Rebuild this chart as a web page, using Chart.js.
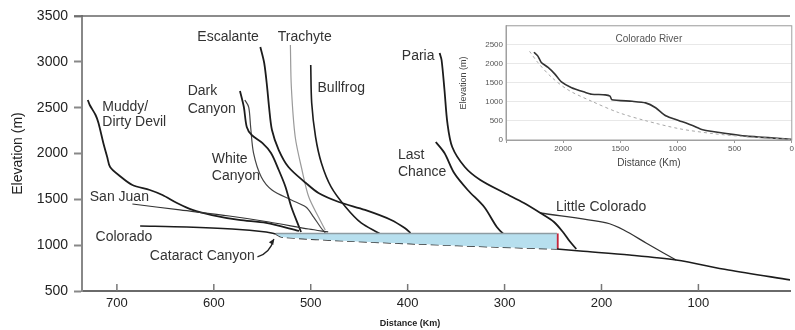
<!DOCTYPE html>
<html>
<head>
<meta charset="utf-8">
<script src="https://cdn.jsdelivr.net/npm/chart.js@4/dist/chart.umd.min.js"></script>
<style>
  html, body { margin: 0; padding: 0; background: #fff; }
  #wrap { position: relative; width: 795px; height: 330px; }
  #main { position: absolute; left: 0; top: 0; }
  #inset { position: absolute; left: 456px; top: 18px; }
</style>
</head>
<body>
<div id="wrap">
  <canvas id="main" width="795" height="330"></canvas>
  <canvas id="inset" width="339" height="160"></canvas>
</div>
<script>
// river long profiles, distance (km) vs elevation (m)
const muddyKm   = [730, 728, 722, 719, 714, 710, 707, 697, 684, 666, 653, 638, 622, 602, 574, 546, 512];
const muddyElev = [2584, 2529, 2420, 2333, 2115, 1962, 1853, 1755, 1656, 1602, 1547, 1460, 1384, 1329, 1275, 1242, 1155];

const sanJuanKm   = [684, 635, 584, 543, 502, 482];
const sanJuanElev = [1449, 1384, 1318, 1253, 1176, 1144];

const coloradoUpKm   = [676, 628, 581, 546, 536];
const coloradoUpElev = [1209, 1198, 1176, 1144, 1122];

const oldBedKm   = [536, 530, 461, 390, 308, 246];
const oldBedElev = [1122, 1089, 1045, 1013, 980, 958];

const lakeKm   = [536, 530, 461, 390, 308, 246];
const lakeElev = [1128, 1128, 1128, 1128, 1128, 1128];

const coloradoDownKm   = [246, 222, 171, 123, 69, 5];
const coloradoDownElev = [958, 936, 893, 838, 729, 620];

const damKm   = [246, 246];
const damElev = [958, 1128];

const darkKm   = [573, 569, 566, 561, 550, 541, 533, 526, 520, 512, 510];
const darkElev = [2682, 2507, 2289, 2202, 2115, 2005, 1820, 1635, 1416, 1198, 1144];

const whiteKm   = [568, 564, 562, 559, 551, 540, 520, 505, 497, 490, 485];
const whiteElev = [2584, 2507, 2289, 2005, 1744, 1602, 1493, 1416, 1307, 1198, 1133];

const escalanteKm   = [552, 548, 545, 543, 540, 533, 523, 505, 492, 471, 444, 417, 403, 397];
const escalanteElev = [3162, 2987, 2725, 2507, 2256, 2038, 1853, 1678, 1569, 1471, 1384, 1275, 1187, 1133];

const trachyteKm   = [521, 520, 516, 509, 502, 492, 485];
const trachyteElev = [3184, 2725, 2180, 1820, 1525, 1307, 1165];

const bullfrogKm   = [500, 499, 495, 489, 479, 464, 448, 430, 425];
const bullfrogElev = [2965, 2551, 2180, 1896, 1635, 1416, 1242, 1133, 1100];

const pariaKm   = [367, 365, 362, 359, 354, 341, 325, 300, 280, 263, 249, 239, 233, 226];
const pariaElev = [3096, 3020, 2693, 2333, 2071, 1853, 1711, 1569, 1460, 1351, 1253, 1133, 1045, 958];

const lastChanceKm   = [371, 362, 352, 338, 321, 308, 300, 292];
const lastChanceElev = [2125, 2005, 1787, 1602, 1416, 1198, 1111, 1056];

const littleColKm   = [263, 195, 177, 154, 136, 123];
const littleColElev = [1351, 1242, 1165, 1024, 915, 838];

// name labels (left edge, vertical middle)
const noteText = ['Muddy/', 'Dirty Devil', 'Dark', 'Canyon', 'Escalante', 'Trachyte', 'Bullfrog', 'Paria',
                  'Last', 'Chance', 'White', 'Canyon', 'San Juan', 'Colorado', 'Cataract Canyon', 'Little Colorado'];
const noteKm   = [715, 715, 627, 627, 617, 534, 493, 406, 410, 410, 602, 602, 728, 722, 666, 247];
const noteElev = [2507, 2344, 2682, 2485, 3271, 3271, 2715, 3064, 1984, 1798, 1940, 1755, 1525, 1089, 882, 1416];

// inset: whole Colorado River
const insetKm   = [2256, 2221, 2191, 2132, 2074, 2015, 1926, 1809, 1750, 1632, 1590, 1574, 1397, 1279, 1191, 1103, 985, 868, 779, 574, 397, 0];
const insetElev = [2305, 2203, 2034, 1907, 1737, 1525, 1373, 1254, 1203, 1186, 1150, 1059, 1017, 975, 847, 636, 508, 381, 271, 169, 102, 17];
const insetTrendKm   = [2294, 2221, 2103, 1956, 1750, 1515, 1279, 985, 691, 397, 15];
const insetTrendElev = [2330, 2034, 1653, 1314, 1017, 720, 508, 297, 169, 85, 17];

const FONT = '"Liberation Sans", Arial, sans-serif';
Chart.defaults.font.family = FONT;

const pts = (km, elev) => km.map((k, i) => ({x: k, y: elev[i]}));

function line(km, elev, color, width, extra) {
  return Object.assign({
    data: pts(km, elev),
    borderColor: color,
    borderWidth: width,
    pointRadius: 0,
    tension: 0.3,
    fill: false
  }, extra || {});
}

const dark = '#1c1c1c';

const mainDecor = {
  id: 'mainDecor',
  afterDatasetsDraw(chart) {
    const {ctx, chartArea, scales: {x, y}} = chart;
    ctx.save();
    // top frame line
    ctx.strokeStyle = '#666';
    ctx.lineWidth = 1.5;
    ctx.beginPath();
    ctx.moveTo(chartArea.left - 8, chartArea.top);
    ctx.lineTo(chartArea.right, chartArea.top);
    ctx.stroke();
    // inward ticks on the distance axis
    ctx.strokeStyle = '#777';
    ctx.lineWidth = 1.5;
    x.ticks.forEach(t => {
      if (t.value % 100 !== 0) return;
      const px = x.getPixelForValue(t.value);
      ctx.beginPath();
      ctx.moveTo(px, chartArea.bottom);
      ctx.lineTo(px, chartArea.bottom - 7);
      ctx.stroke();
    });
    // river names
    ctx.font = '14px ' + FONT;
    ctx.fillStyle = '#333';
    ctx.textAlign = 'left';
    ctx.textBaseline = 'middle';
    noteText.forEach((t, i) => {
      ctx.fillText(t, x.getPixelForValue(noteKm[i]), y.getPixelForValue(noteElev[i]));
    });
    // arrow from "Cataract Canyon"
    const ax = [555, 545, 538], ay = [871, 947, 1067];
    const p = ax.map((k, i) => [x.getPixelForValue(k), y.getPixelForValue(ay[i])]);
    ctx.strokeStyle = '#222';
    ctx.lineWidth = 1.3;
    ctx.beginPath();
    ctx.moveTo(p[0][0], p[0][1]);
    ctx.quadraticCurveTo(p[1][0] + 3, p[1][1] + 3, p[2][0], p[2][1]);
    ctx.stroke();
    const ang = Math.atan2(p[2][1] - p[1][1], p[2][0] - p[1][0]);
    ctx.fillStyle = '#222';
    ctx.beginPath();
    ctx.moveTo(p[2][0], p[2][1]);
    ctx.lineTo(p[2][0] - 6 * Math.cos(ang - 0.45), p[2][1] - 6 * Math.sin(ang - 0.45));
    ctx.lineTo(p[2][0] - 6 * Math.cos(ang + 0.45), p[2][1] - 6 * Math.sin(ang + 0.45));
    ctx.closePath();
    ctx.fill();
    // axis title
    ctx.font = 'bold 9px ' + FONT;
    ctx.fillStyle = '#222';
    ctx.textAlign = 'center';
    ctx.fillText('Distance (Km)', 410, 324);
    ctx.restore();
  }
};

new Chart(document.getElementById('main'), {
  type: 'line',
  data: {
    datasets: [
      line(lakeKm, lakeElev, '#8e9ca2', 1.5, {fill: '+1', backgroundColor: '#b7dfee', tension: 0}),
      line(oldBedKm, oldBedElev, '#333', 1.5, {borderDash: [8, 4]}),
      line(coloradoUpKm, coloradoUpElev, dark, 1.6),
      line(coloradoDownKm, coloradoDownElev, dark, 1.6),
      line(sanJuanKm, sanJuanElev, '#333', 1.2),
      line(muddyKm, muddyElev, dark, 1.8),
      line(darkKm, darkElev, dark, 1.8),
      line(whiteKm, whiteElev, '#444', 1.2),
      line(escalanteKm, escalanteElev, dark, 1.8),
      line(trachyteKm, trachyteElev, '#9a9a9a', 1.2),
      line(bullfrogKm, bullfrogElev, dark, 1.6),
      line(pariaKm, pariaElev, dark, 1.8),
      line(lastChanceKm, lastChanceElev, dark, 1.8),
      line(littleColKm, littleColElev, '#333', 1.3),
      line(damKm, damElev, '#c4263c', 3.5, {tension: 0})
    ]
  },
  options: {
    responsive: false,
    animation: false,
    layout: {padding: {top: 16, right: 0, left: 0, bottom: 0}},
    plugins: {legend: {display: false}, tooltip: {enabled: false}},
    scales: {
      x: {
        type: 'linear',
        reverse: true,
        min: 5.5,
        max: 736,
        afterFit: s => { s.height = 39; },
        border: {display: true, color: '#6a6a6a', width: 2},
        grid: {display: true, drawOnChartArea: false, drawTicks: false},
        ticks: {
          stepSize: 100,
          autoSkip: false,
          maxRotation: 0,
          padding: 5,
          color: '#222',
          font: {size: 13},
          callback: v => (v % 100 === 0 ? String(v) : '')
        }
      },
      y: {
        min: 500,
        max: 3500,
        afterFit: s => { s.width = 82; },
        border: {display: true, color: '#888', width: 2},
        grid: {display: true, drawOnChartArea: false, tickLength: 8, tickColor: '#888', tickWidth: 2},
        ticks: {stepSize: 500, padding: 6, color: '#222', font: {size: 14}, callback: v => String(v)},
        title: {display: true, text: 'Elevation (m)', color: '#222', font: {size: 14}, padding: {top: 10, bottom: 0}}
      }
    }
  },
  plugins: [mainDecor]
});

const insetDecor = {
  id: 'insetDecor',
  afterDraw(chart) {
    const {ctx, chartArea} = chart;
    ctx.save();
    ctx.strokeStyle = '#a0a0a0';
    ctx.lineWidth = 1;
    ctx.strokeRect(chartArea.left, chartArea.top, chartArea.right - chartArea.left, chartArea.bottom - chartArea.top);
    ctx.font = '10px ' + FONT;
    ctx.fillStyle = '#555';
    ctx.textAlign = 'center';
    ctx.textBaseline = 'middle';
    ctx.fillText('Colorado River', (chartArea.left + chartArea.right) / 2, chartArea.top + 13);
    ctx.restore();
  }
};

new Chart(document.getElementById('inset'), {
  type: 'line',
  data: {
    datasets: [
      line(insetTrendKm, insetTrendElev, '#a8a8a8', 1, {borderDash: [3, 3]}),
      line(insetKm, insetElev, '#333', 1.6, {tension: 0.2})
    ]
  },
  options: {
    responsive: false,
    animation: false,
    layout: {padding: {top: 4, right: 3, left: 0, bottom: 0}},
    plugins: {legend: {display: false}, tooltip: {enabled: false}},
    scales: {
      x: {
        type: 'linear',
        reverse: true,
        min: 0,
        max: 2500,
        afterFit: s => { s.height = 38; },
        border: {display: true, color: '#a0a0a0', width: 1},
        grid: {display: true, drawOnChartArea: false, tickLength: 3, tickColor: '#999'},
        ticks: {stepSize: 500, padding: 1, color: '#555', font: {size: 8}, maxRotation: 0,
                callback: v => (v === 2500 ? '' : String(v))},
        title: {display: true, text: 'Distance (Km)', color: '#444', font: {size: 10}, padding: {top: 0, bottom: 9}}
      },
      y: {
        min: 0,
        max: 3000,
        afterFit: s => { s.width = 50; },
        border: {display: true, color: '#a0a0a0', width: 1},
        grid: {display: true, color: '#e8e8e8', drawTicks: false},
        ticks: {stepSize: 500, padding: 3, color: '#555', font: {size: 8},
                callback: v => (v === 3000 ? '' : String(v))},
        title: {display: true, text: 'Elevation (m)', color: '#444', font: {size: 9}, padding: {top: 2, bottom: 0}}
      }
    }
  },
  plugins: [insetDecor]
});
</script>
</body>
</html>
